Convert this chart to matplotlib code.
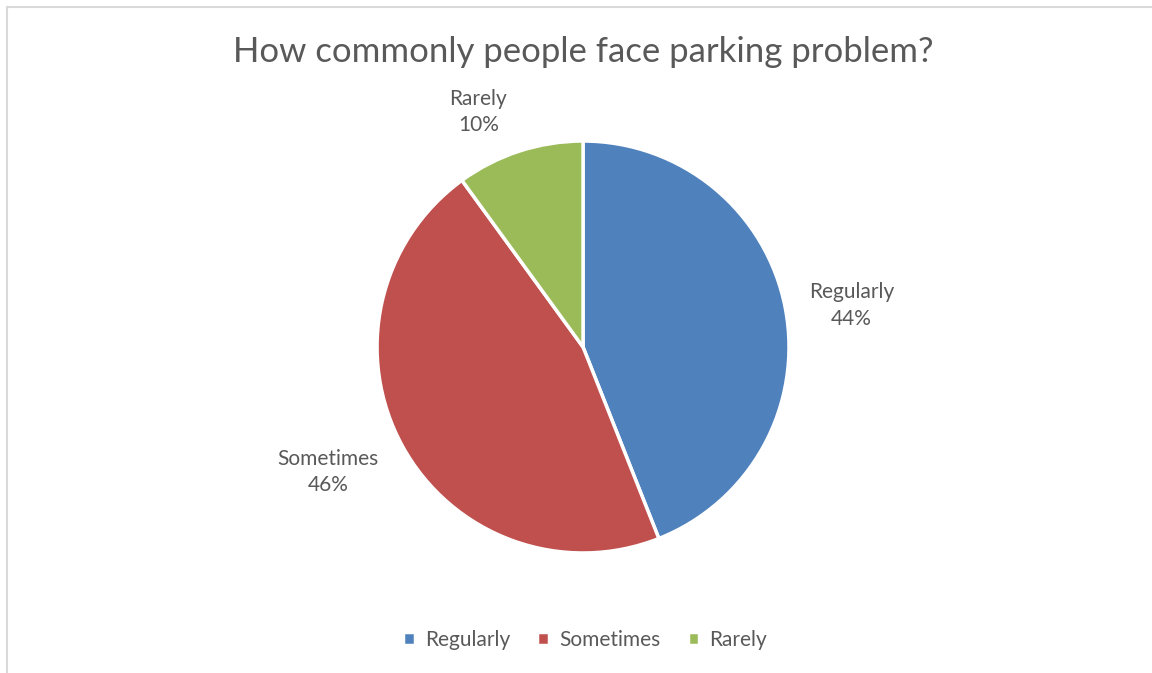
import numpy as np
import matplotlib
matplotlib.use("Agg")
import matplotlib.pyplot as plt

plt.rcParams['font.family'] = ['Lato', 'DejaVu Sans']

TEXT = '#595959'

categories = ["Regularly", "Sometimes", "Rarely"]
shares = [44, 46, 10]
colors = ["#4F81BD", "#C0504D", "#9BBB59"]
# label placement (distance in radii, angle offset from wedge middle in degrees)
label_dist = [1.32, 1.38, 1.25]
label_turn = [-2, -2.7, 6]

fig = plt.figure(figsize=(11.52, 6.73), dpi=100)

# light chart-area frame (left and top edges visible)
fig.add_artist(plt.Rectangle((7 / 1152, -0.1), 1.2, 1 - 7 / 673 + 0.1,
                             transform=fig.transFigure, fill=False,
                             edgecolor='#D9D9D9', linewidth=1.5))

ax = fig.add_axes([0.3273, 0.1783, 0.3576, 0.6122])
wedges, _ = ax.pie(shares, colors=colors, startangle=90, counterclock=False,
                   radius=1, wedgeprops=dict(edgecolor='white', linewidth=2.5))
ax.set_xlim(-1, 1)
ax.set_ylim(-1, 1)
ax.set_aspect('equal')
ax.axis('off')

for w, name, val, d, t in zip(wedges, categories, shares, label_dist, label_turn):
    mid = np.deg2rad((w.theta1 + w.theta2) / 2 + t)
    ax.text(d * np.cos(mid), d * np.sin(mid), f"{name}\n{val}%",
            ha='center', va='center', fontsize=15, color=TEXT,
            linespacing=1.4)

fig.text(0.506, 1 - 52 / 673, "How commonly people face parking problem?",
         ha='center', va='center', fontsize=25, color=TEXT)

leg = fig.legend(wedges, categories, loc='center', bbox_to_anchor=(0.508, 1 - 640 / 673),
                 ncol=3, frameon=False, fontsize=15, handlelength=0.55,
                 handleheight=0.55, handletextpad=0.5, columnspacing=1.3)
for t in leg.get_texts():
    t.set_color(TEXT)

fig.savefig('out.png', dpi=100)
